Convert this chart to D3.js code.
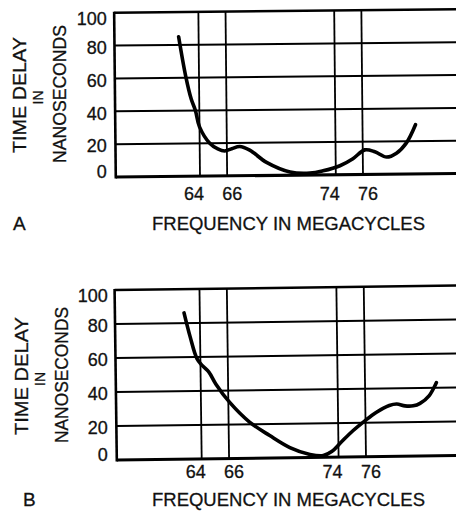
<!DOCTYPE html>
<html>
<head>
<meta charset="utf-8">
<script src="https://cdn.jsdelivr.net/npm/d3@7"></script>
<style>
body { margin: 0; background: #fff; }
text { font-family: "Liberation Sans", Arial, sans-serif; fill: #111; stroke: #111; stroke-width: 0.3; }
</style>
</head>
<body>
<svg width="456" height="517"></svg>
<script>
// grid / tick values
const freqTicks = [64, 66, 74, 76];
const delayTicks = [0, 20, 40, 60, 80, 100];

// curve A
const freqA  = [62.53, 63.02, 63.41, 63.71, 64.0, 64.74, 65.33, 65.84, 66.36, 66.95, 67.68, 68.91, 70.63, 72.1, 73.06, 74.31, 75.27, 76.15, 76.89, 77.75, 78.48, 79.22, 79.9];
const delayA = [85, 61, 47, 40, 30, 20, 16.5, 15.2, 16.5, 17.8, 15.5, 8, 2, 1.2, 2.5, 5.5, 9.7, 15, 13.8, 10.5, 12.8, 19, 30];

// curve B
const freqB  = [62.85, 63.27, 63.75, 64.12, 64.61, 65.1, 66.07, 67.53, 68.99, 70.45, 71.91, 72.88, 73.5, 74.23, 75.07, 75.93, 76.78, 77.75, 78.3, 78.9, 79.5, 80.0, 80.68, 81.21];
const delayB = [86, 72, 59, 55, 51, 44, 33.3, 21.3, 13.2, 6, 1.8, 1, 3.3, 9, 15.4, 21, 26, 30, 30.8, 29.6, 29.6, 31, 35.5, 43];

const svg = d3.select("svg");

function drawPanel(p, freqs, delays) {
  const x = d3.scaleLinear().domain([64, 76]).range([p.x64, p.x76]);
  const y = d3.scaleLinear().domain([0, 100]).range([p.y0, p.y100]);
  const x0 = x(57.8), x1 = x(83);

  // the scan is slightly tilted, so the plot area is too
  const g = svg.append("g")
    .attr("transform", "rotate(" + p.tilt + "," + x0 + "," + p.y0 + ")");

  g.selectAll(".h").data(delayTicks).enter().append("line")
    .attr("x1", x0).attr("x2", x1)
    .attr("y1", d => y(d)).attr("y2", d => y(d))
    .attr("stroke", "#000")
    .attr("stroke-width", d => d == 0 ? 3 : (d == 100 ? 2.5 : 2));

  g.selectAll(".v").data(freqTicks).enter().append("line")
    .attr("x1", d => x(d)).attr("x2", d => x(d))
    .attr("y1", y(0)).attr("y2", y(100))
    .attr("stroke", "#000").attr("stroke-width", 1.8);

  g.append("line")
    .attr("x1", x0).attr("x2", x0)
    .attr("y1", y(0) + 1.5).attr("y2", y(100) - 1)
    .attr("stroke", "#000").attr("stroke-width", 2.6);

  const pts = freqs.map((f, i) => [f, delays[i]]);
  g.append("path")
    .datum(pts)
    .attr("fill", "none")
    .attr("stroke", "#000")
    .attr("stroke-width", 3.6)
    .attr("stroke-linecap", "round")
    .attr("d", d3.line().x(d => x(d[0])).y(d => y(d[1])).curve(d3.curveCatmullRom.alpha(0.5)));

  // y tick labels, squeezed in at the ends like the original
  svg.selectAll(".yl" + p.letter).data(delayTicks).enter().append("text")
    .attr("x", x0 - 9)
    .attr("y", d => Math.min(Math.max(y(d) + 2, y(100) + 6), y(0) - 5))
    .attr("dy", "0.35em")
    .attr("text-anchor", "end")
    .attr("font-size", 18)
    .text(d => d);

  // x tick labels sit a little apart from their lines
  svg.selectAll(".xl" + p.letter).data(freqTicks).enter().append("text")
    .attr("x", (d, i) => x(d) + (i % 2 == 0 ? -6 : 5))
    .attr("y", p.tickY)
    .attr("text-anchor", "middle")
    .attr("font-size", 18)
    .text(d => d);

  svg.append("text")
    .attr("x", 152).attr("y", p.titleY)
    .attr("font-size", 19)
    .attr("textLength", 273).attr("lengthAdjust", "spacingAndGlyphs")
    .text("FREQUENCY  IN  MEGACYCLES");

  svg.append("text")
    .attr("x", p.letterX).attr("y", p.titleY)
    .attr("font-size", 19)
    .text(p.letter);

  const ylab = [
    { t: "TIME DELAY", bx: p.lab[0], cy: p.labY[0], len: p.len[0], fs: 18 },
    { t: "IN", bx: p.lab[1], cy: p.labY[1], len: null, fs: 14 },
    { t: "NANOSECONDS", bx: p.lab[2], cy: p.labY[2], len: p.len[1], fs: 18 }
  ];
  ylab.forEach(l => {
    const t = svg.append("text")
      .attr("transform", "translate(" + l.bx + "," + l.cy + ")rotate(-90)")
      .attr("text-anchor", "middle")
      .attr("font-size", l.fs)
      .text(l.t);
    if (l.len) t.attr("textLength", l.len).attr("lengthAdjust", "spacingAndGlyphs");
  });
}

drawPanel({ letter: "A", x64: 200, x76: 363, y0: 177, y100: 12.7, tilt: -0.57,
  tickY: 200, titleY: 230, letterX: 13,
  lab: [26, 43, 66], labY: [95, 97.5, 94], len: [116, 138] }, freqA, delayA);

drawPanel({ letter: "B", x64: 201.7, x76: 366, y0: 460, y100: 290, tilt: -0.75,
  tickY: 478, titleY: 506, letterX: 23,
  lab: [28, 44.5, 67.5], labY: [376, 379, 375], len: [118, 136] }, freqB, delayB);
</script>
</body>
</html>
